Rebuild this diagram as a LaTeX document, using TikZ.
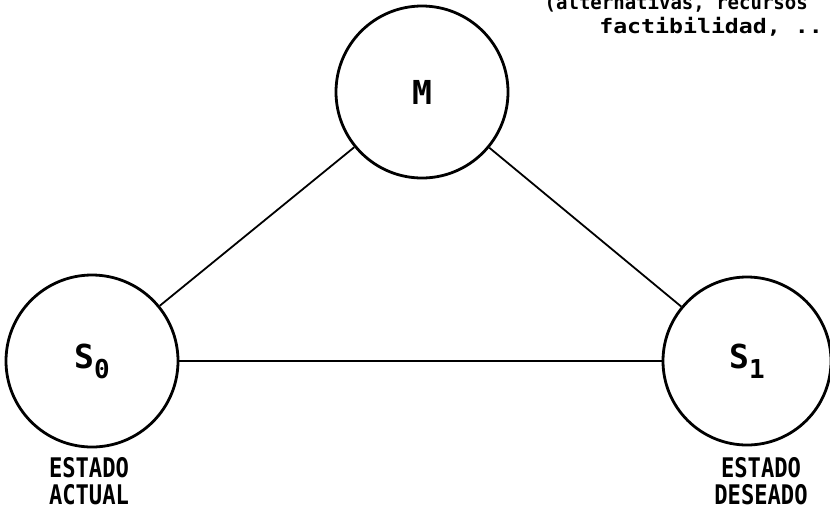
\documentclass[tikz,border=0pt]{standalone}
\usepackage{fontspec}
\newfontfamily\tw{DejaVu Sans Mono}
\tikzset{
  state/.style={circle, draw, line width=2.8pt, minimum size=172pt, inner sep=0pt,
    font=\tw\bfseries\fontsize{33}{33}\selectfont},
  link/.style={line width=1.8pt},
  caption/.style={align=center, inner sep=0pt, xscale=0.82,
    font=\tw\bfseries\fontsize{27}{27}\selectfont},
  note/.style={anchor=base east, inner sep=0pt, font=\tw\bfseries\fontsize{20}{20}\selectfont}
}
\newcommand{\subz}[1]{{\fontsize{26}{26}\selectfont\raisebox{-10pt}{#1}}}
\begin{document}
\begin{tikzpicture}[x=1pt,y=-1pt]
\useasboundingbox (0,0) rectangle (830,512);
\node[state] (M) at (422,92) {M};
\node[state] (S0) at (92,361) {S\subz{0}};
\node[state, minimum size=168pt] (S1) at (747,361) {S\subz{1}};
\draw[link] (S0) -- (M);
\draw[link] (M) -- (S1);
\draw[link] (S0) -- (S1);
\node[caption, anchor=north] (c0) at (89,457) {ESTADO\\ACTUAL};
\node[caption, anchor=north] (c1) at (761,457) {ESTADO\\DESEADO};
\node[note, xscale=0.95] (n1) at (808,9) {(alternativas, recursos};
\node[note, xscale=1.16] (n2) at (823,33) {factibilidad, ..};
\end{tikzpicture}
\end{document}
